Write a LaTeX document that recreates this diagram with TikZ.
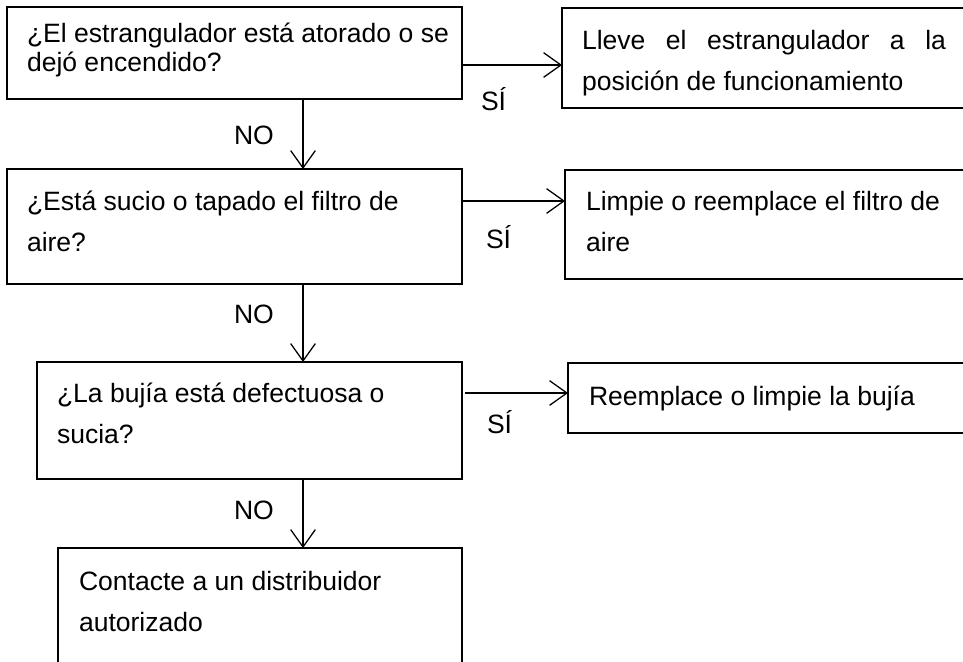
\documentclass[tikz,border=0pt]{standalone}
\usepackage{fontspec}
\setmainfont{Liberation Sans}
\usetikzlibrary{arrows.meta,fit}
\tikzset{
  boxst/.style={draw=black, line width=0.85pt, inner sep=0pt, outer sep=0pt},
  txt/.style={anchor=base west, inner sep=0pt, outer sep=0pt, font=\fontsize{19.9pt}{24pt}\selectfont},
  arr/.style={draw=black, line width=0.95pt, -{Straight Barb[length=13pt,width=18.5pt]}}
}
\begin{document}
\begin{tikzpicture}[x=0.75pt,y=-0.75pt]
\useasboundingbox (0,0) rectangle (963,661);
\clip (0,0) rectangle (963,661);
% boxes (left column)
\coordinate (b1a) at (7,7);   \coordinate (b1b) at (462,99);
\coordinate (b2a) at (7,169); \coordinate (b2b) at (462,284);
\coordinate (b3a) at (37,362); \coordinate (b3b) at (462,479);
\coordinate (b4a) at (58,548); \coordinate (b4b) at (462,700);
\node[boxst, fit=(b1a)(b1b)] (b1) {};
\node[boxst, fit=(b2a)(b2b)] (b2) {};
\node[boxst, fit=(b3a)(b3b)] (b3) {};
\node[boxst, fit=(b4a)(b4b)] (b4) {};
% boxes (right column)
\coordinate (r1a) at (562,8);   \coordinate (r1b) at (990,108);
\coordinate (r2a) at (565,170); \coordinate (r2b) at (990,279);
\coordinate (r3a) at (568,363); \coordinate (r3b) at (990,433);
\node[boxst, fit=(r1a)(r1b)] (r1) {};
\node[boxst, fit=(r2a)(r2b)] (r2) {};
\node[boxst, fit=(r3a)(r3b)] (r3) {};
% texts
\node[txt] (t1a) at (27,42) {¿El estrangulador está atorado o se};
\node[txt] (t1b) at (27,71) {dejó encendido?};
\node[txt] (t2a) at (27,210) {¿Está sucio o tapado el filtro de};
\node[txt] (t2b) at (27,251) {aire?};
\node[txt] (t3a) at (57,402) {¿La bujía está defectuosa o};
\node[txt] (t3b) at (57,443) {sucia?};
\node[txt] (t4a) at (79,590) {Contacte a un distribuidor};
\node[txt] (t4b) at (79,631) {autorizado};
\node[txt] (s1a) at (582,49) {\makebox[273pt][s]{Lleve el estrangulador a la}};
\node[txt] (s1b) at (582,90) {posición de funcionamiento};
\node[txt] (s2a) at (586,210) {Limpie o reemplace el filtro de};
\node[txt] (s2b) at (586,251) {aire};
\node[txt] (s3a) at (589,405) {Reemplace o limpie la bujía};
% connectors
\draw[arr] (b1.east |- 0,65) -- (r1.west |- 0,65);
\draw[arr] (b2.east |- 0,201) -- (r2.west |- 0,201);
\coordinate (a3s) at (465,393);
\draw[arr] (a3s) -- (r3.west |- a3s);
\draw[arr] (b1.south -| 303,0) -- (b2.north -| 303,0);
\draw[arr] (b2.south -| 303,0) -- (b3.north -| 303,0);
\draw[arr] (b3.south -| 303,0) -- (b4.north -| 303,0);
% labels
\node[txt] (y1) at (481,110) {SÍ};
\node[txt] (y2) at (486,248) {SÍ};
\node[txt] (y3) at (487,433) {SÍ};
\node[txt] (n1) at (234,144) {NO};
\node[txt] (n2) at (234,323) {NO};
\node[txt] (n3) at (234,519) {NO};
\end{tikzpicture}
\end{document}
